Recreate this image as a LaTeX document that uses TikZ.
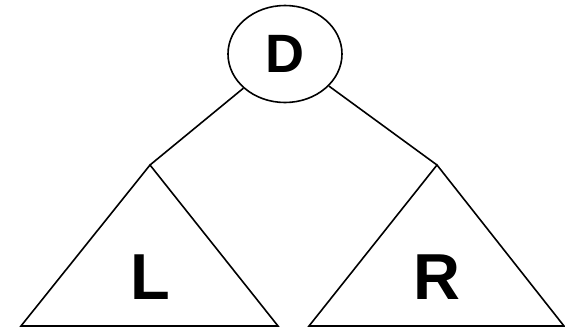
\documentclass[tikz,border=0pt]{standalone}
\usepackage{fontspec}
\setmainfont{Liberation Sans}
\usetikzlibrary{shapes.geometric}
\begin{document}
\begin{tikzpicture}[x=1pt,y=-1pt,
  line/.style={draw=black,line width=1.6pt,line join=miter},
  rootnode/.style={ellipse,draw=black,line width=1.6pt,minimum width=114pt,minimum height=97pt,inner sep=0pt,
    font=\fontsize{54}{54}\selectfont\bfseries},
  lbl/.style={inner sep=0pt,font=\fontsize{65}{65}\selectfont\bfseries}]
\useasboundingbox (0,0) rectangle (565,330);
\node[rootnode] (D) at (285,54) {D};
\coordinate (Lt) at (150,165);
\coordinate (Lbl) at (21,326);
\coordinate (Lbr) at (278,326);
\coordinate (Rt) at (437,165);
\coordinate (Rbl) at (309,326);
\coordinate (Rbr) at (564,326);
\draw[line] (Lt) -- (Lbl) -- (Lbr) -- cycle;
\draw[line] (Rt) -- (Rbl) -- (Rbr) -- cycle;
\draw[line] (D) -- (Lt);
\draw[line] (D) -- (Rt);
\node[lbl] (L) at (150,277) {L};
\node[lbl] (R) at (437,277) {R};
\end{tikzpicture}
\end{document}
